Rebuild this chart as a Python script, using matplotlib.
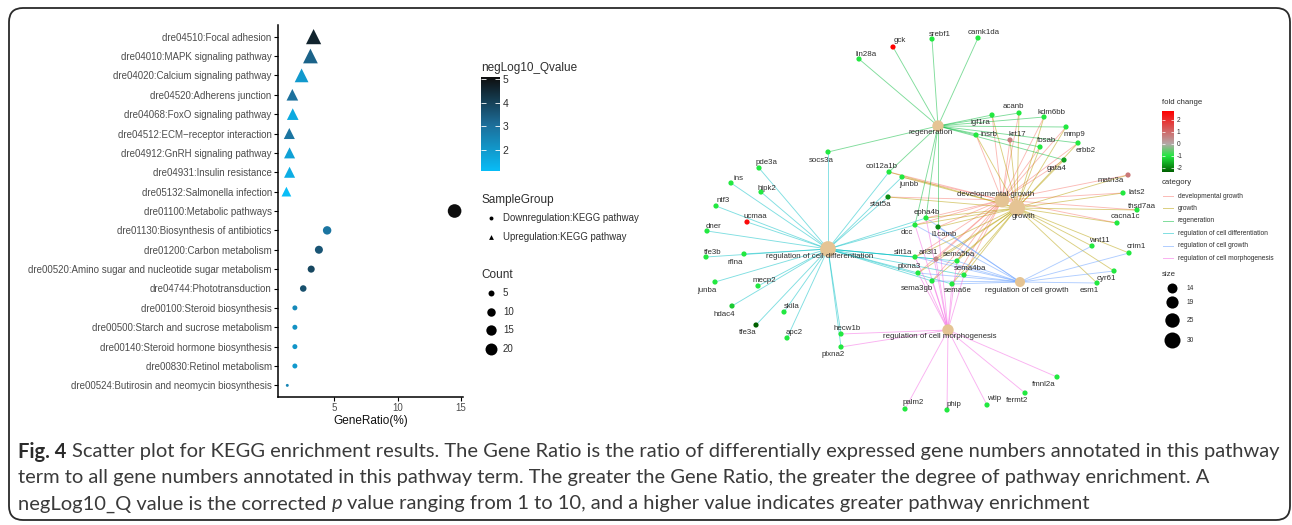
import matplotlib
matplotlib.use("Agg")
import matplotlib.pyplot as plt
import numpy as np
from matplotlib.colors import LinearSegmentedColormap
from matplotlib.patches import FancyBboxPatch

plt.rcParams["font.family"] = ["Liberation Sans", "DejaVu Sans"]
plt.rcParams["axes.unicode_minus"] = False

W, H = 1292, 525
PX = 72.0 / 100.0  # points per pixel at dpi 100

# ---- KEGG scatter (top to bottom) ----
pathways = [
    "dre04510:Focal adhesion",
    "dre04010:MAPK signaling pathway",
    "dre04020:Calcium signaling pathway",
    "dre04520:Adherens junction",
    "dre04068:FoxO signaling pathway",
    "dre04512:ECM\u2212receptor interaction",
    "dre04912:GnRH signaling pathway",
    "dre04931:Insulin resistance",
    "dre05132:Salmonella infection",
    "dre01100:Metabolic pathways",
    "dre01130:Biosynthesis of antibiotics",
    "dre01200:Carbon metabolism",
    "dre00520:Amino sugar and nucleotide sugar metabolism",
    "dre04744:Phototransduction",
    "dre00100:Steroid biosynthesis",
    "dre00500:Starch and sucrose metabolism",
    "dre00140:Steroid hormone biosynthesis",
    "dre00830:Retinol metabolism",
    "dre00524:Butirosin and neomycin biosynthesis",
]
gene_ratio = [3.35, 3.1, 2.4, 1.67, 1.7, 1.43, 1.45, 1.45, 1.2,
              14.5, 4.42, 3.77, 3.16, 2.53, 1.87, 1.87, 1.87, 1.87, 1.27]
neglog10_q = [4.6, 3.3, 2.0, 3.0, 1.6, 2.9, 1.8, 1.5, 1.11,
              5.08, 2.9, 3.6, 3.9, 3.7, 2.4, 2.2, 2.1, 2.0, 2.5]
counts = [17, 16, 14, 10, 10, 9, 9, 9, 7,
          26, 10, 9, 7, 6, 3.5, 3.5, 3.5, 3.5, 1.2]
sample_group = ["Up"] * 9 + ["Down"] * 10
count_breaks = [5, 10, 15, 20]
q_ticks = [2, 3, 4, 5]
x_ticks = [5, 10, 15]

# ---- gene-concept network ----
cat_names = ["developmental growth", "growth", "regeneration",
             "regulation of cell differentiation", "regulation of cell growth",
             "regulation of cell morphogenesis"]
cat_x = [1002, 1017, 938, 828, 1020, 948]
cat_y = [200, 208, 126, 249, 282, 330]
cat_genes = [
    ["col12a1b", "junbb", "stat5a", "igf1ra", "insrb", "acanb", "kdm6bb", "mmp9", "krt17",
     "fosab", "erbb2", "gata4", "matn3a", "lats2", "thsd7aa", "cacna1c", "epha4b", "dcc",
     "l1camb", "slit1a", "arl3l1", "sema5ba", "plxna3", "sema4ba", "sema3gb", "sema6e"],
    ["col12a1b", "junbb", "stat5a", "igf1ra", "insrb", "acanb", "kdm6bb", "mmp9", "krt17",
     "fosab", "erbb2", "gata4", "matn3a", "lats2", "thsd7aa", "cacna1c", "epha4b", "dcc",
     "l1camb", "slit1a", "arl3l1", "sema5ba", "plxna3", "sema4ba", "sema3gb", "sema6e",
     "wnt11", "crim1", "cyr61", "esm1"],
    ["lin28a", "gck", "srebf1", "camk1da", "socs3a", "igf1ra", "insrb", "acanb", "kdm6bb",
     "mmp9", "fosab", "erbb2", "gata4", "col12a1b", "epha4b", "dcc", "l1camb"],
    ["socs3a", "pde3a", "ins", "hipk2", "ntf3", "ucmaa", "dner", "tfe3b", "rflna", "junba",
     "mecp2", "hdac4", "tfe3a", "skila", "apc2", "hecw1b", "plxna2", "col12a1b", "junbb",
     "stat5a", "epha4b", "dcc", "slit1a", "arl3l1", "sema5ba", "plxna3", "sema4ba",
     "sema3gb", "sema6e"],
    ["l1camb", "slit1a", "arl3l1", "sema5ba", "sema4ba", "sema3gb", "sema6e", "plxna3",
     "wnt11", "crim1", "cyr61", "esm1", "dcc", "epha4b"],
    ["palm2", "phip", "wtip", "fermt2", "fmnl2a", "hecw1b", "plxna2", "epha4b", "dcc",
     "l1camb", "slit1a", "arl3l1", "plxna3", "sema3gb", "sema6e", "sema5ba", "sema4ba"],
]
gene_names = ["lin28a", "gck", "srebf1", "camk1da", "igf1ra", "insrb", "acanb", "kdm6bb",
              "mmp9", "krt17", "fosab", "erbb2", "gata4", "socs3a", "pde3a", "col12a1b",
              "ins", "hipk2", "junbb", "stat5a", "ntf3", "ucmaa", "dner", "epha4b", "dcc",
              "l1camb", "tfe3b", "rflna", "slit1a", "arl3l1", "sema5ba", "plxna3", "sema4ba",
              "junba", "mecp2", "sema3gb", "sema6e", "hdac4", "skila", "tfe3a", "apc2",
              "hecw1b", "plxna2", "palm2", "phip", "wtip", "fermt2", "fmnl2a", "matn3a",
              "lats2", "thsd7aa", "cacna1c", "wnt11", "crim1", "cyr61", "esm1"]
gene_x = [859, 893, 932, 978, 992, 976, 1019, 1044, 1066, 1010, 1040, 1078, 1064, 828, 759,
          889, 731, 761, 902, 888, 716, 747, 707, 926, 915, 938, 706, 744, 915, 936, 957,
          918, 964, 715, 758, 932, 952, 732, 784, 756, 787, 841, 841, 905, 947, 987, 1025,
          1057, 1128, 1123, 1137, 1117, 1092, 1129, 1114, 1097]
gene_y = [59, 47, 39, 38, 115, 135, 113, 117, 127, 140, 147, 143, 160, 152, 168, 172, 183,
          192, 177, 197, 206, 222, 231, 218, 225, 227, 257, 254, 257, 259, 261, 273, 275,
          282, 286, 281, 284, 306, 312, 325, 338, 334, 347, 409, 410, 405, 393, 377, 175,
          193, 210, 223, 246, 253, 271, 283]
gene_fc = [-1, 2.75, -1, -1, -1, -1, -1, -1, -1, 0.7, -1, -1, -1.7, -1, -1, -1, -1, -1, -1,
           -1.9, -1, 2.6, -1, -1, -1, -1.9, -1, -1, -1, 0.6, -1, -1, -1, -1, -1, -1, -1,
           -1.3, -1, -2.34, -1, -1, -1, -1, -1, -1, -1, -1, 0.8, -1, -1, -1, -1, -1, -1, -1]
fc_ticks = [2, 1, 0, -1, -2]
size_breaks = [14, 19, 25, 30]

# label anchor points (centre of each text) in the layout
gene_label_x = [866, 900, 940, 984, 980, 989, 1013, 1052, 1074, 1017, 1046, 1086, 1057, 821,
                766, 882, 738, 767, 909, 881, 723, 755, 714, 927, 907, 944, 713, 735, 903,
                928, 959, 909, 970, 707, 764, 917, 958, 724, 792, 748, 794, 847, 833, 913,
                954, 994, 1017, 1044, 1111, 1137, 1142, 1125, 1099, 1136, 1106, 1089]
gene_label_y = [54, 41, 34, 32, 122, 134, 107, 112, 134, 135, 141, 151, 168, 160, 163, 167,
                178, 188, 184, 204, 201, 216, 226, 213, 233, 234, 252, 262, 252, 253, 255,
                267, 269, 290, 281, 288, 291, 314, 307, 332, 332, 328, 354, 403, 404, 399,
                400, 384, 181, 193, 206, 217, 241, 247, 278, 291]
cat_label_x = [996, 1023, 931, 820, 1027, 940]
cat_label_y = [194, 217, 133, 257, 290, 337]

# ---- styles ----
q_cmap = LinearSegmentedColormap.from_list("q", ["#08BDF7", "#1D6D98", "#0E0E0E"])
fc_lo, fc_hi = min(gene_fc), max(gene_fc)
fc_cmap = LinearSegmentedColormap.from_list(
    "fc",
    [(0.0, "#006000"), ((-1 - fc_lo) / (fc_hi - fc_lo), "#22E840"),
     ((0 - fc_lo) / (fc_hi - fc_lo), "#B4A8A8"), (1.0, "#FF0000")],
)
edge_colors = ["#F8766D", "#B79F00", "#00BA38", "#00BFC4", "#619CFF", "#F564E3"]
EDGE_ALPHA = 0.5
HUB_COLOR = "#E5C494"
TXT = "#2e2e2e"


def count_size(c):
    return 3.7 * np.asarray(c, dtype=float)


def hub_size(n):
    d = np.sqrt(100 + 9.75 * (np.asarray(n, dtype=float) - 14))
    return (d * PX) ** 2


fig = plt.figure(figsize=(W / 100, H / 100), dpi=100)

# overlay in pixel coordinates
ax0 = fig.add_axes([0, 0, 1, 1])
ax0.set_xlim(0, W)
ax0.set_ylim(H, 0)
ax0.axis("off")
ax0.add_patch(FancyBboxPatch((9, 8), 1281, 512, boxstyle="round,pad=0,rounding_size=14",
                             fill=False, edgecolor="#2a2a2a", linewidth=1.3))

# ---- scatter panel ----
ax = fig.add_axes([278 / W, 1 - 397 / H, (463 - 278) / W, (397 - 25) / H])
n = len(pathways)
ypos = np.arange(n)[::-1]
gr = np.array(gene_ratio)
q = np.array(neglog10_q)
cnt = np.array(counts)
up = np.array([g == "Up" for g in sample_group])
qmin, qmax = q.min(), q.max()
ax.scatter(gr[~up], ypos[~up], s=count_size(cnt[~up]), c=q[~up], cmap=q_cmap,
           vmin=qmin, vmax=qmax, marker="o", linewidths=0, zorder=3)
ax.scatter(gr[up], ypos[up], s=count_size(cnt[up]) * 1.9, c=q[up], cmap=q_cmap,
           vmin=qmin, vmax=qmax, marker="^", linewidths=0, zorder=3)
span = gr.max() - gr.min()
ax.set_xlim(gr.min() - 0.05 * span, gr.max() + 0.05 * span)
ax.set_ylim(-0.6, n - 0.4)
ax.set_yticks(ypos)
ax.set_yticklabels(pathways)
ax.set_xticks(x_ticks)
ax.tick_params(axis="y", labelsize=7, labelcolor="#4D4D4D", length=3, width=0.8, pad=1.5)
ax.tick_params(axis="x", labelsize=7, labelcolor="#4D4D4D", length=3, width=0.8, pad=1.5)
ax.set_xlabel("GeneRatio(%)", fontsize=8.5, color="#111111", labelpad=1)
for side in ["top", "right"]:
    ax.spines[side].set_visible(False)
for side in ["left", "bottom"]:
    ax.spines[side].set_linewidth(1.1)
ax.set_facecolor("none")

# negLog10_Qvalue colourbar
cax = fig.add_axes([481 / W, 1 - 171 / H, 19 / W, 94 / H])
grad = np.linspace(qmin, qmax, 256).reshape(-1, 1)
cax.imshow(grad, aspect="auto", cmap=q_cmap, origin="lower", extent=[0, 1, qmin, qmax])
cax.set_xticks([])
cax.set_yticks(q_ticks)
cax.tick_params(axis="y", left=True, right=True, labelleft=False, labelright=True,
                direction="in", length=3.5, width=0.6, color="white",
                labelsize=7.5, labelcolor=TXT, pad=2)
for s in cax.spines.values():
    s.set_visible(False)
ax0.text(481, 68, "negLog10_Qvalue", fontsize=8.5, color=TXT, va="center")

# SampleGroup legend
ax0.text(481, 200, "SampleGroup", fontsize=8.5, color=TXT, va="center")
ax0.scatter([491], [218], s=8, marker="o", color="black", linewidths=0)
ax0.scatter([491], [237], s=12, marker="^", color="black", linewidths=0)
ax0.text(503, 218, "Downregulation:KEGG pathway", fontsize=6.9, color=TXT, va="center")
ax0.text(503, 237, "Upregulation:KEGG pathway", fontsize=6.9, color=TXT, va="center")

# Count legend
ax0.text(481, 275, "Count", fontsize=8.5, color=TXT, va="center")
for i, b in enumerate(count_breaks):
    yy = 293 + i * 18.7
    ax0.scatter([491], [yy], s=count_size(b), color="black", linewidths=0)
    ax0.text(503, yy, str(b), fontsize=7, color=TXT, va="center")

# ---- network ----
pos = {g: (x, y) for g, x, y in zip(gene_names, gene_x, gene_y)}
for ci, genes in enumerate(cat_genes):
    for g in genes:
        gx, gy = pos[g]
        ax0.plot([cat_x[ci], gx], [cat_y[ci], gy], color=edge_colors[ci], lw=0.65,
                 alpha=EDGE_ALPHA, zorder=2, solid_capstyle="butt")
ax0.scatter(cat_x, cat_y, s=hub_size([len(g) for g in cat_genes]), color=HUB_COLOR,
            linewidths=0, zorder=3)
ax0.scatter(gene_x, gene_y, s=14, c=gene_fc, cmap=fc_cmap, vmin=fc_lo, vmax=fc_hi,
            linewidths=0, zorder=4)
for name, lx, ly in zip(gene_names, gene_label_x, gene_label_y):
    ax0.text(lx, ly, name, fontsize=5.7, color=TXT, ha="center", va="center", zorder=5)
for name, lx, ly in zip(cat_names, cat_label_x, cat_label_y):
    ax0.text(lx, ly, name, fontsize=5.7, color=TXT, ha="center", va="center", zorder=5)

# fold change colourbar
ax0.text(1162, 103, "fold change", fontsize=5.6, color=TXT, va="center")
fcax = fig.add_axes([1162 / W, 1 - 172 / H, 12 / W, 61 / H])
fgrad = np.linspace(fc_lo, fc_hi, 256).reshape(-1, 1)
fcax.imshow(fgrad, aspect="auto", cmap=fc_cmap, origin="lower", extent=[0, 1, fc_lo, fc_hi])
fcax.set_xticks([])
fcax.set_yticks(fc_ticks)
fcax.tick_params(axis="y", left=True, right=True, labelleft=False, labelright=True,
                 direction="in", length=2.5, width=0.5, color="white",
                 labelsize=4.8, labelcolor=TXT, pad=2)
for s in fcax.spines.values():
    s.set_visible(False)

# category legend
ax0.text(1162, 182, "category", fontsize=5.6, color=TXT, va="center")
for i, name in enumerate(cat_names):
    yy = 196 + i * 12.4
    ax0.plot([1163, 1173], [yy, yy], color=edge_colors[i], lw=0.7, alpha=EDGE_ALPHA)
    ax0.text(1178, yy, name, fontsize=4.8, color=TXT, va="center")

# size legend
ax0.text(1162, 274, "size", fontsize=5.6, color=TXT, va="center")
for yy, b in zip([288, 302, 320, 340], size_breaks):
    ax0.scatter([1172], [yy], s=hub_size(b), color="black", linewidths=0)
    ax0.text(1187, yy, str(b), fontsize=4.8, color=TXT, va="center")

# ---- caption ----
CAP_FONT = ["Lato", "Liberation Sans", "DejaVu Sans"]
caption = [
    [("Fig. 4", "bold", "normal"),
     ("Scatter plot for KEGG enrichment results. The Gene Ratio is the ratio of differentially "
      "expressed gene numbers annotated in this pathway", "normal", "normal")],
    [("term to all gene numbers annotated in this pathway term. The greater the Gene Ratio, "
      "the greater the degree of pathway enrichment. A", "normal", "normal")],
    [("negLog10_Q value is the corrected", "normal", "normal"), ("p", "normal", "italic"),
     ("value ranging from 1 to 10, and a higher value indicates greater pathway enrichment",
      "normal", "normal")],
]
renderer = fig.canvas.get_renderer()


def text_width(s, size, weight, style):
    t = fig.text(0, 0, s, fontsize=size, fontweight=weight, fontstyle=style, family=CAP_FONT)
    w = t.get_window_extent(renderer).width
    t.remove()
    return w


def run_widths(runs, size):
    sp = text_width("a a", size, "normal", "normal") - text_width("aa", size, "normal", "normal")
    ws = [text_width(s, size, wt, st) for s, wt, st in runs]
    return ws, sp


base = 12.0
ws, sp = run_widths(caption[0], base)
cap_size = base * 1257.0 / (sum(ws) + sp * (len(ws) - 1))
for line, yy in zip(caption, [452, 478, 504]):
    ws, sp = run_widths(line, cap_size)
    x = 18.0
    for (s, wt, st), w in zip(line, ws):
        fig.text(x / W, 1 - yy / H, s, fontsize=cap_size, fontweight=wt, fontstyle=st,
                 family=CAP_FONT, color="#2b2b2b" if wt == "bold" else "#3a3a3a",
                 va="center", ha="left")
        x += w + sp

fig.savefig("out.png", dpi=100)
